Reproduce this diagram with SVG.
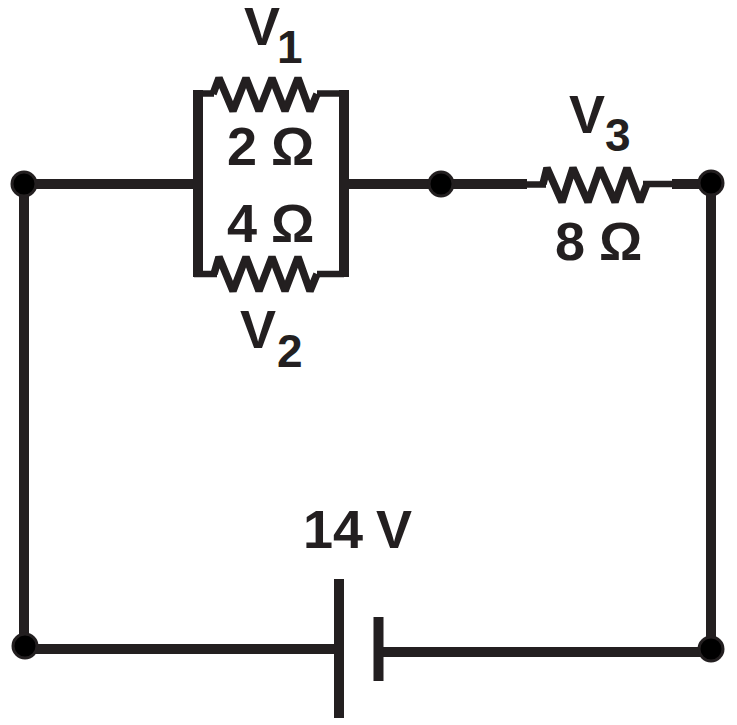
<svg xmlns="http://www.w3.org/2000/svg" width="737" height="725" viewBox="0 0 737 725">
<style>
.w{fill:none;stroke:#231f20;stroke-width:10}
.h{fill:none;stroke:#231f20;stroke-width:6.500}
.r{fill:none;stroke:#231f20;stroke-width:7.500;stroke-linejoin:bevel}
.t{fill:#231f20;font-family:"Liberation Sans",Arial,sans-serif;font-weight:700;font-size:54px}
.s{font-size:46px}
.n{fill:#000;stroke:#231f20;stroke-width:3}
</style>
<rect width="737" height="725" fill="#fff"/>
<g id="connectors">
<path class="w" d="M24 184H198M344 184H441H527M672 184H711V649M24 184V646M25 649H339M378 652H711"/>
<path class="w" d="M198 90V277M344 90V277"/>
<path class="h" d="M198 93.500H214M317 93.500H344M194 274H217M317 274H344M527 184.500H546M643 184H672"/>
</g>
<g id="r1"><path class="r" d="M213 94L219 78L233 111L246 78L259 111L272 78L285 111L298 78L310 111L317 94"/><text class="t" x="244" y="45">V</text><text class="t s" x="277" y="63">1</text><text class="t" x="227" y="165" xml:space="preserve" word-spacing="-1">2 Ω</text></g>
<g id="r2"><path class="r" d="M214 274L219 257L233 291L246 257L259 291L272 257L285 291L298 257L310 291L317 274"/><text class="t" x="227" y="242" xml:space="preserve" word-spacing="-1">4 Ω</text><text class="t" x="240" y="348">V</text><text class="t s" x="277" y="367">2</text></g>
<g id="r3"><path class="r" d="M543 184L547 168L562 202L573 168L588 202L600 168L615 202L627 168L640 202L647 184"/><text class="t" x="569" y="133">V</text><text class="t s" x="605" y="151">3</text><text class="t" x="555" y="260" xml:space="preserve" word-spacing="-1">8 Ω</text></g>
<g id="battery"><path class="w" d="M339 579V718M378.500 617V681"/><text class="t" x="303" y="548" xml:space="preserve" word-spacing="-2">14 V</text></g>
<g id="n1"><circle class="n" cx="24" cy="184" r="12"/></g>
<g id="n2"><circle class="n" cx="441" cy="184" r="12"/></g>
<g id="n3"><circle class="n" cx="711" cy="183" r="12"/></g>
<g id="n4"><circle class="n" cx="25" cy="646" r="12"/></g>
<g id="n5"><circle class="n" cx="711" cy="649" r="12"/></g>
</svg>
